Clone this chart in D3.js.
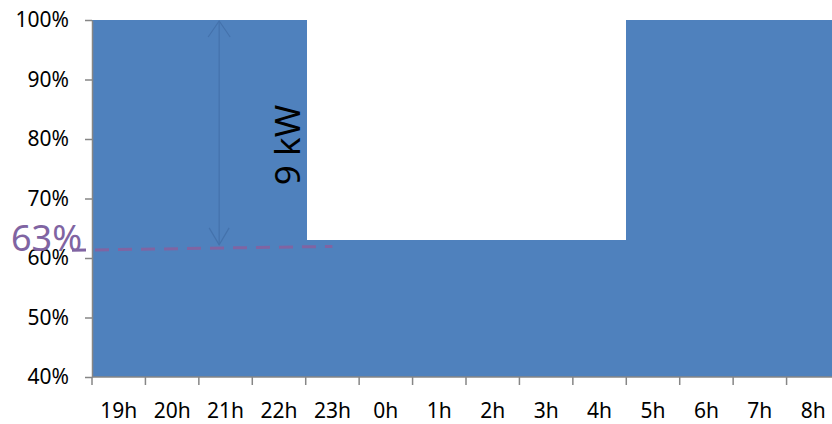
<!DOCTYPE html>
<html>
<head>
<meta charset="utf-8">
<script src="https://cdn.jsdelivr.net/npm/d3@7/dist/d3.min.js"></script>
<style>
  html, body { margin: 0; padding: 0; background: #fff; overflow: hidden; }
  svg { display: block; font-family: "Noto Sans", "Open Sans", sans-serif; }
</style>
</head>
<body>
<svg id="chart" width="832" height="424"></svg>
<script>
// Hourly load share, 19h through 8h
const hours = ["19h","20h","21h","22h","23h","0h","1h","2h","3h","4h","5h","6h","7h","8h"];
const share = [100,100,100,100,63,63,63,63,63,63,100,100,100,100];
const yTicks = [40,50,60,70,80,90,100];

// Annotation values: reduced level marker and the 9 kW span
const reducedLabel = "63%";
const markerLine = { from: 61.3, to: 61.95, startHour: "19h", endHour: "23h" };
const spanArrow = { hour: "21h", top: 100, bottom: 62.2, label: "9 kW" };

const svg = d3.select("#chart");
const plotLeft = 92, plotTop = 20, plotBottom = 377, plotRight = 840;

const x = d3.scaleBand().domain(hours).range([plotLeft, plotRight]).paddingInner(0).paddingOuter(0);
const y = d3.scaleLinear().domain([40, 100]).range([plotBottom, plotTop]);

const blue = "#4F81BD";
const axisGray = "#868686";

// Columns with no gap between them
svg.append("g").attr("shape-rendering", "crispEdges").selectAll("rect")
  .data(hours.map((h, i) => ({ h, v: share[i] })))
  .join("rect")
  .attr("x", d => x(d.h))
  .attr("width", x.bandwidth() + 1)
  .attr("y", d => y(d.v))
  .attr("height", d => y(40) - y(d.v))
  .attr("fill", blue);

// Y axis
const yAxis = svg.append("g")
  .attr("transform", `translate(${plotLeft},0)`)
  .call(d3.axisLeft(y).tickValues(yTicks).tickFormat(d => d + "%").tickSize(7).tickSizeOuter(0).tickPadding(16));
yAxis.select(".domain").attr("stroke", axisGray).attr("stroke-width", 1.5);
yAxis.selectAll(".tick line").attr("stroke", axisGray).attr("stroke-width", 1.5);
yAxis.selectAll(".tick text").attr("font-size", 21).attr("fill", "#000")
  .attr("font-family", "'Noto Sans', sans-serif");

// X axis: ticks on category boundaries, labels centred in each band
const xAxis = svg.append("g");
xAxis.append("line")
  .attr("x1", plotLeft).attr("x2", plotRight).attr("y1", plotBottom).attr("y2", plotBottom)
  .attr("stroke", axisGray).attr("stroke-width", 1.5);
xAxis.selectAll("line.tick")
  .data(hours)
  .join("line")
  .attr("class", "tick")
  .attr("x1", d => x(d)).attr("x2", d => x(d))
  .attr("y1", plotBottom).attr("y2", plotBottom + 8)
  .attr("stroke", axisGray).attr("stroke-width", 1.5);
xAxis.selectAll("text")
  .data(hours)
  .join("text")
  .attr("x", d => x(d) + x.bandwidth() / 2)
  .attr("y", 418)
  .attr("text-anchor", "middle")
  .attr("font-size", 21)
  .attr("fill", "#000")
  .text(d => d);

// Double-headed span arrow
const ax = x(spanArrow.hour) + x.bandwidth() * 0.38;
const ay1 = y(spanArrow.top), ay2 = y(spanArrow.bottom);
const arrowColor = "#4472AC";
const arrow = svg.append("g").attr("stroke", arrowColor).attr("stroke-width", 1.2).attr("fill", "none");
arrow.append("line").attr("x1", ax).attr("x2", ax).attr("y1", ay1 + 1).attr("y2", ay2);
arrow.append("path").attr("d", `M${ax - 11},${ay1 + 17} L${ax},${ay1 + 1} L${ax + 11},${ay1 + 17}`);
arrow.append("path").attr("d", `M${ax - 10},${ay2 - 17} L${ax},${ay2} L${ax + 10},${ay2 - 17}`);

svg.append("text")
  .attr("transform", `translate(${x("22h") + x.bandwidth() * 0.9},${y(79)}) rotate(-90)`)
  .attr("text-anchor", "middle")
  .attr("font-size", 35)
  .attr("fill", "#000")
  .text(spanArrow.label);

// Dashed reduced-level marker and its label
svg.append("line")
  .attr("x1", 72)
  .attr("x2", x(markerLine.endHour) + x.bandwidth() * 0.5)
  .attr("y1", y(markerLine.from))
  .attr("y2", y(markerLine.to))
  .attr("stroke", "#8064A2")
  .attr("stroke-width", 3)
  .attr("stroke-dasharray", "14,9");

svg.append("text")
  .attr("x", 11)
  .attr("y", 251)
  .attr("font-size", 36)
  .attr("fill", "#8064A2")
  .text(reducedLabel);
</script>
</body>
</html>
